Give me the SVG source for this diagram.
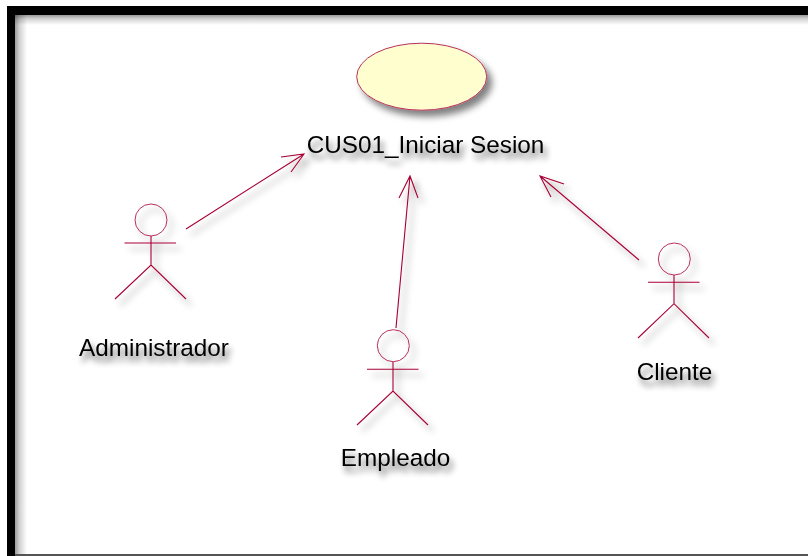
<svg xmlns="http://www.w3.org/2000/svg" width="808" height="556" viewBox="0 0 808 556">
<defs>
<filter id="sh" x="-30%" y="-30%" width="170%" height="170%">
<feGaussianBlur in="SourceAlpha" stdDeviation="3.5"/>
<feOffset dx="5" dy="6"/>
<feComponentTransfer><feFuncA type="linear" slope="0.5"/></feComponentTransfer>
<feMerge><feMergeNode/><feMergeNode in="SourceGraphic"/></feMerge>
</filter>
<filter id="st" x="-15%" y="-40%" width="130%" height="200%">
<feGaussianBlur in="SourceGraphic" stdDeviation="0.35" result="soft"/>
<feGaussianBlur in="SourceAlpha" stdDeviation="3"/>
<feOffset dx="3" dy="6"/>
<feComponentTransfer><feFuncA type="linear" slope="0.6"/></feComponentTransfer>
<feMerge><feMergeNode/><feMergeNode in="soft"/></feMerge>
</filter>
<linearGradient id="gl" x1="0" x2="1" y1="0" y2="0"><stop offset="0" stop-color="#9a9a9a"/><stop offset="0.4" stop-color="#d4d4d4"/><stop offset="1" stop-color="#fff"/></linearGradient>
<linearGradient id="gt" x1="0" x2="0" y1="0" y2="1"><stop offset="0" stop-color="#9a9a9a"/><stop offset="0.4" stop-color="#d4d4d4"/><stop offset="1" stop-color="#fff"/></linearGradient>
<style>
.l{fill:none;stroke:#A80036;stroke-width:1.1}
.h{fill:none;stroke:#B8305A;stroke-width:1}
.t{font-family:"Liberation Sans",Arial,sans-serif;font-size:24.3px;fill:#000;text-anchor:middle}
.m{mix-blend-mode:multiply}
</style>
</defs>
<rect width="808" height="556" fill="#fff"/>
<g id="frame">
<rect class="m" x="15" y="15" width="793" height="10" fill="url(#gt)"/>
<rect class="m" x="15" y="15" width="12" height="539" fill="url(#gl)"/>
<rect x="7" y="6" width="801" height="9" fill="#000"/>
<rect x="7" y="6" width="8" height="550" fill="#000"/>
<rect x="15" y="554" width="793" height="2" fill="#555"/>
</g>
<g id="connectors" filter="url(#sh)">
<path class="l" d="M186 229L304 154M281 157L304 154L291 172"/>
<path class="l" d="M396 328L410 176M399 198L410 176L418 198"/>
<path class="l" d="M639 260L540 176M564 184L540 176L551 197"/>
</g>
<g id="usecase">
<ellipse cx="421.700" cy="76.700" rx="65" ry="33.500" fill="#FEFECE" stroke="#B8305A" stroke-width="1" filter="url(#sh)"/>
<text class="t" x="425.500" y="153" filter="url(#st)">CUS01_Iniciar Sesion</text>
</g>
<g id="administrador">
<g filter="url(#sh)"><circle class="h" cx="151" cy="220" r="16"/><path class="l" d="M151 236V265M124.500 243H176M115 299L151 265L186 299"/></g>
<text class="t" x="154" y="356" filter="url(#st)">Administrador</text>
</g>
<g id="empleado">
<g filter="url(#sh)"><circle class="h" cx="393.300" cy="345.700" r="16"/><path class="l" d="M393 362V391M367 369.300H418.500M357 425L393 391L428 425"/></g>
<text class="t" x="395.500" y="466" filter="url(#st)">Empleado</text>
</g>
<g id="cliente">
<g filter="url(#sh)"><circle class="h" cx="674.300" cy="259" r="16"/><path class="l" d="M674 275V303.700M648 282.300H699.500M638 338L674 303.700L709 338"/></g>
<text class="t" x="674.500" y="380" filter="url(#st)">Cliente</text>
</g>
</svg>
